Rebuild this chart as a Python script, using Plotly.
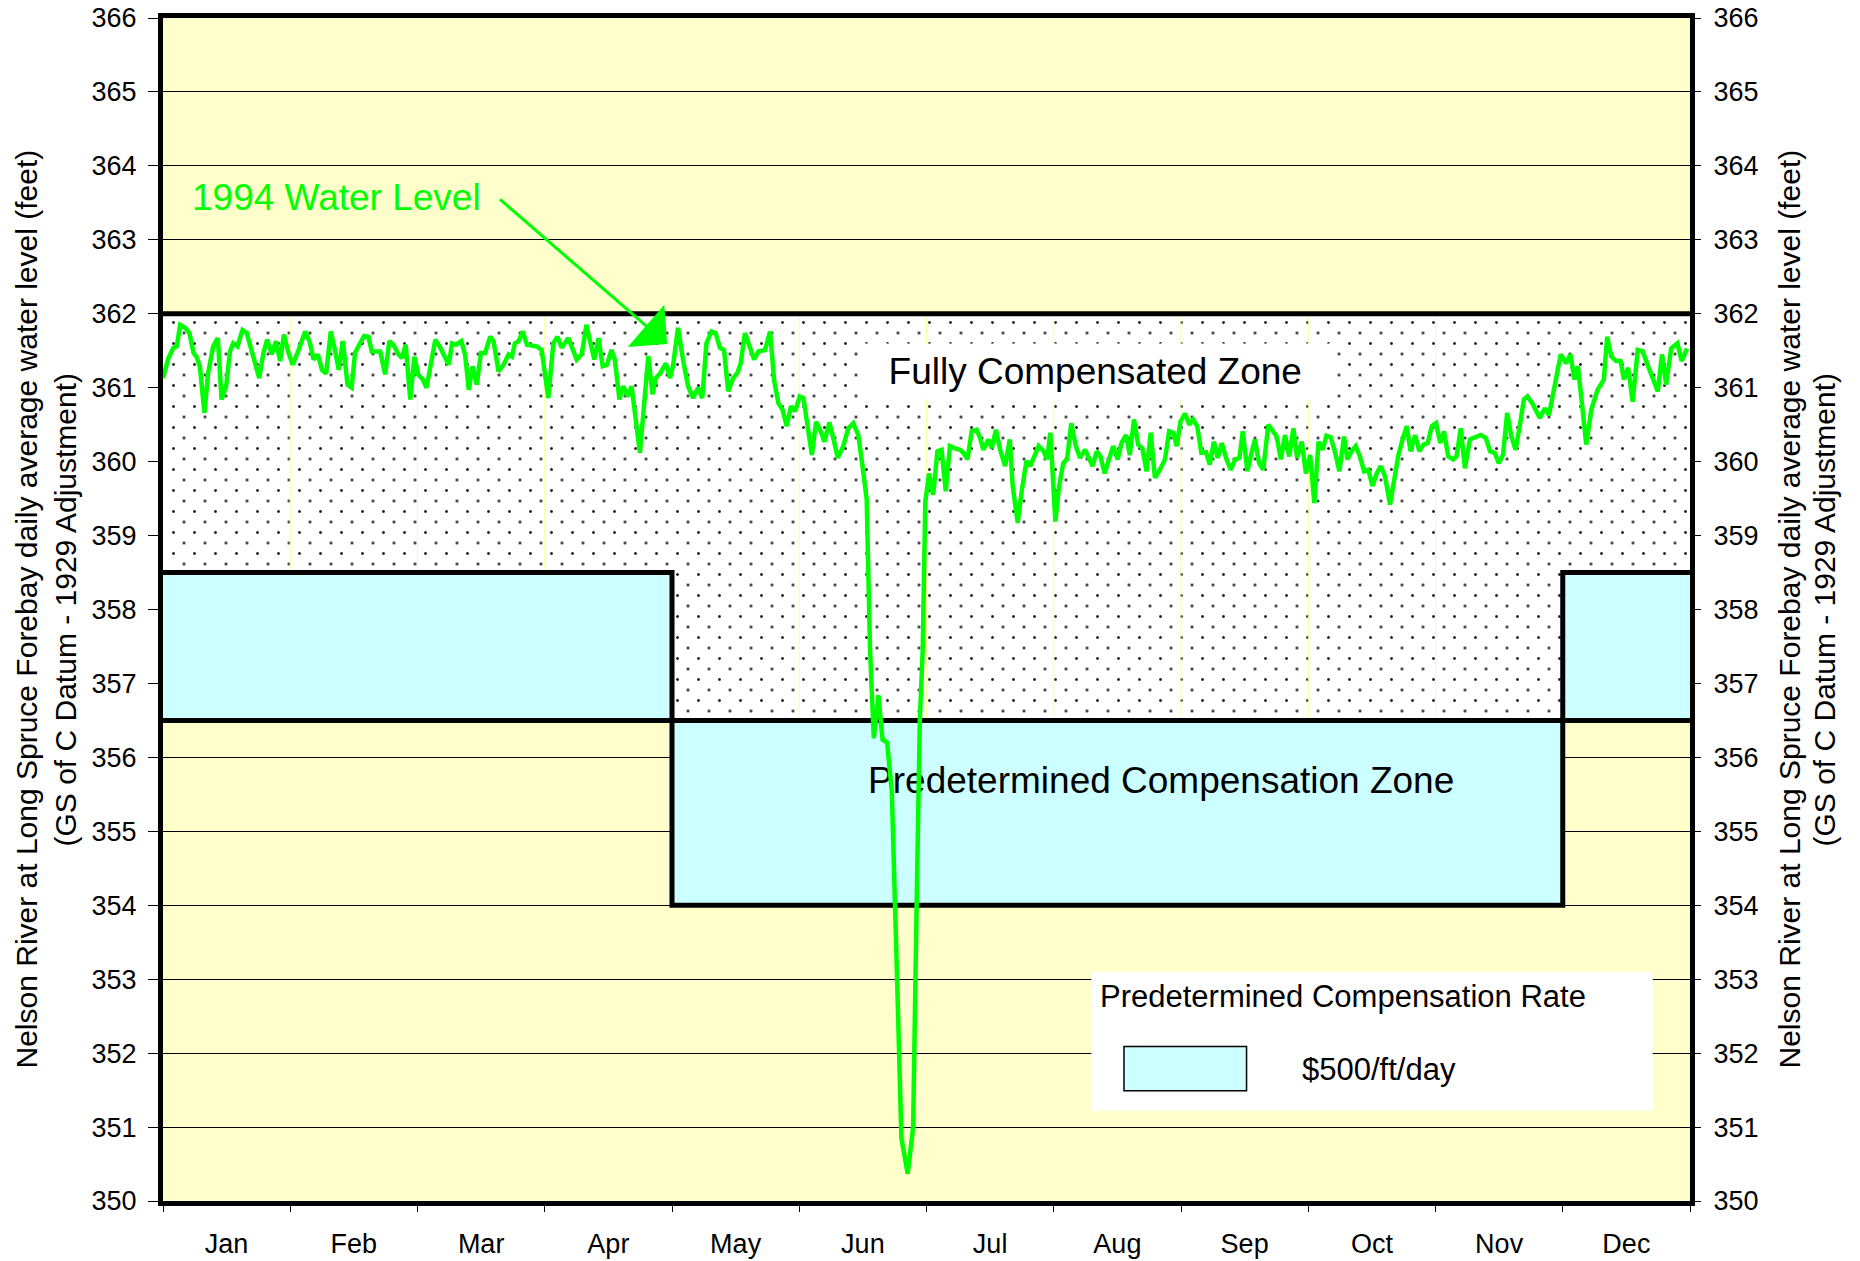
import plotly.graph_objects as go

# ---------------- data ----------------
MONTHS = ["Jan", "Feb", "Mar", "Apr", "May", "Jun", "Jul", "Aug", "Sep", "Oct", "Nov", "Dec"]
Y_TICKS = list(range(350, 367))

# (day of year, daily average water level in feet) for 1994
winter = [
    (0, 361.13), (1.3, 361.40), (2.5, 361.54), (3.3, 361.56), (4.1, 361.85), (5.3, 361.81),
    (6.3, 361.74), (7.3, 361.47), (8.0, 361.42), (8.8, 361.29), (9.9, 360.66), (10.8, 361.20),
    (12.0, 361.56), (13.1, 361.67), (14.0, 360.84), (15.1, 361.02), (16.0, 361.49), (16.8, 361.60),
    (17.8, 361.56), (19.0, 361.78), (20.0, 361.74), (21.6, 361.42), (23.0, 361.13), (24.0, 361.47),
    (24.9, 361.65), (26.0, 361.45), (27.0, 361.63), (28.0, 361.36), (28.9, 361.72), (30.0, 361.47),
    (31.0, 361.31), (32.4, 361.51), (34.0, 361.76), (35.0, 361.63), (36.0, 361.38), (37.0, 361.45),
    (38.0, 361.24), (39.0, 361.19), (40.1, 361.76), (41.1, 361.51), (42.0, 361.24), (43.0, 361.63),
    (44.1, 361.04), (45.1, 361.00), (45.9, 361.47), (47.1, 361.60), (48.1, 361.70), (49.1, 361.69),
    (49.9, 361.49), (51.9, 361.49), (53.1, 361.18), (54.1, 361.63), (55.1, 361.58), (56.3, 361.45),
    (57.1, 361.40), (58.0, 361.58), (59.1, 360.84), (60.1, 361.42), (61.0, 361.18), (62.1, 361.11),
    (63.0, 361.00), (65.1, 361.65), (66.3, 361.54), (68.3, 361.31), (69.1, 361.60), (70.0, 361.58),
    (71.3, 361.63), (72.2, 361.45), (73.1, 360.97), (74.0, 361.29), (75.0, 361.04), (76.0, 361.47),
    (77.0, 361.47), (78.2, 361.69), (79.0, 361.63), (80.2, 361.22), (81.4, 361.31), (82.6, 361.45),
    (83.4, 361.42), (84.1, 361.60), (85.0, 361.63), (86.0, 361.76), (87.0, 361.58), (89.3, 361.56),
    (90.5, 361.51), (92.1, 360.86), (93.3, 361.60), (94.3, 361.69), (95.3, 361.54), (96.9, 361.67),
    (98.9, 361.38), (100.1, 361.45), (101.2, 361.85), (102.2, 361.60), (103.1, 361.38), (104.1, 361.67),
    (105.1, 361.29), (106.1, 361.31), (107.2, 361.51), (108.0, 361.38), (109.1, 360.84), (110.0, 361.02),
    (111.1, 360.88), (112.0, 361.02), (114.0, 360.12), (116.0, 361.43),
]
spring = [
    (117.0, 360.91), (117.8, 361.13), (118.9, 361.20), (120.2, 361.33), (121.2, 361.13), (121.9, 361.29),
    (123.1, 361.81), (124.3, 361.38), (125.5, 361.02), (126.7, 360.86), (127.9, 361.00), (128.9, 360.86),
    (129.9, 361.60), (131.1, 361.76), (132.1, 361.74), (133.1, 361.54), (134.1, 361.51), (135.1, 360.95),
    (136.3, 361.13), (137.3, 361.20), (138.1, 361.33), (139.1, 361.74), (140.3, 361.56), (141.3, 361.38),
    (142.3, 361.49), (143.9, 361.51), (145.1, 361.76), (146.1, 361.09), (147.1, 360.79), (148.1, 360.70),
    (149.1, 360.48), (150.1, 360.75), (151.1, 360.68), (152.2, 360.88), (153.1, 360.86), (154.1, 360.52),
    (155.1, 360.09), (156.1, 360.54), (157.1, 360.43), (158.1, 360.27), (159.3, 360.53), (160.3, 360.30),
    (161.3, 360.05), (162.6, 360.21), (163.8, 360.45), (165.0, 360.52), (166.2, 360.36), (167.2, 359.94),
    (168.2, 359.49),
]
june_drawdown = [
    (169.0, 357.46), (169.9, 356.26), (171.0, 356.84), (172.0, 356.24), (173.1, 356.20), (174.2, 355.54),
    (175.4, 353.15), (176.5, 350.85), (178.0, 350.37), (179.3, 350.99), (180.1, 353.86), (180.9, 356.50),
    (181.6, 357.46), (182.2, 359.44),
]
summer = [
    (183.1, 359.84), (184.1, 359.55), (185.1, 360.14), (186.1, 360.16), (187.1, 359.60), (188.1, 360.21),
    (189.3, 360.18), (190.5, 360.16), (191.3, 360.12), (192.3, 360.03), (193.3, 360.41), (194.5, 360.43),
    (195.3, 360.32), (196.1, 360.16), (197.3, 360.30), (198.1, 360.18), (199.1, 360.43), (200.1, 360.16),
    (201.3, 359.94), (202.4, 360.30), (203.1, 359.67), (204.3, 359.17), (205.3, 359.62), (206.4, 360.01),
    (207.3, 359.94), (208.3, 360.07), (209.3, 360.21), (210.5, 360.14), (211.3, 360.03), (212.1, 360.39),
    (213.3, 359.19), (214.2, 359.67), (215.2, 359.98), (216.1, 360.03), (217.1, 360.52), (218.2, 360.21),
    (219.2, 360.05), (220.4, 360.16), (221.2, 360.05), (222.2, 359.94), (223.2, 360.14), (224.1, 360.07),
    (225.1, 359.84), (226.2, 360.03), (227.1, 360.21), (228.2, 360.03), (229.1, 360.25), (230.2, 360.36),
    (231.1, 360.09), (232.1, 360.57), (233.1, 360.23), (234.1, 360.18), (235.1, 359.87), (236.1, 360.39),
    (237.1, 359.78), (238.3, 359.89), (239.5, 360.03), (240.5, 360.41), (241.5, 360.39), (242.3, 360.21),
    (243.2, 360.54), (244.3, 360.65), (245.3, 360.50), (246.2, 360.57), (247.2, 360.48), (248.2, 360.12),
    (249.3, 360.13), (250.2, 359.96), (251.2, 360.27), (252.1, 360.05), (253.1, 360.25), (254.1, 360.05),
    (255.2, 359.89), (256.3, 360.03), (257.3, 360.05), (258.1, 360.41), (259.2, 359.87), (260.2, 360.12),
    (261.0, 360.30), (262.0, 359.98), (263.0, 359.89), (264.2, 360.50), (265.2, 360.43), (266.2, 360.34),
    (267.2, 360.03), (268.2, 360.36), (269.2, 360.07), (270.2, 360.45), (271.1, 360.05), (272.2, 360.27),
]
autumn = [
    (273.2, 359.84), (274.2, 360.09), (275.2, 359.44), (276.2, 360.27), (277.2, 360.16), (278.1, 360.35),
    (279.1, 360.33), (280.1, 360.14), (281.2, 359.87), (282.3, 360.34), (283.1, 360.03), (284.1, 360.14),
    (285.1, 360.21), (286.1, 360.07), (287.1, 359.87), (288.1, 359.89), (289.1, 359.67), (290.1, 359.84),
    (291.1, 359.94), (292.1, 359.80), (293.3, 359.42), (294.3, 359.73), (295.3, 360.09), (296.3, 360.30),
    (297.3, 360.48), (298.2, 360.14), (299.3, 360.36), (300.3, 360.14), (301.3, 360.23), (302.3, 360.25),
    (303.3, 360.48), (304.3, 360.52), (305.3, 360.25), (306.2, 360.41), (307.2, 360.07), (308.4, 360.03),
    (309.2, 360.07), (310.2, 360.45), (311.2, 359.91), (312.4, 360.30), (315.0, 360.36), (316.2, 360.32),
    (317.2, 360.14), (318.3, 360.12), (319.3, 359.98), (320.3, 360.09), (321.3, 360.66), (322.3, 360.34),
    (323.3, 360.16), (324.3, 360.48), (325.3, 360.84), (326.1, 360.88), (327.3, 360.79), (329.1, 360.59),
    (330.3, 360.72), (331.3, 360.63), (332.8, 361.06), (334.1, 361.45), (335.4, 361.33), (336.4, 361.45),
    (337.4, 361.11), (338.2, 361.29), (338.9, 360.93), (340.2, 360.23), (341.4, 360.70), (342.9, 360.97),
    (344.4, 361.11), (345.2, 361.69), (346.2, 361.42), (347.4, 361.36), (348.4, 361.36), (349.2, 361.11),
    (350.2, 361.27), (351.3, 360.81), (352.5, 361.51), (353.7, 361.49), (355.0, 361.29), (356.3, 361.08),
    (357.3, 360.95), (358.3, 361.45), (359.3, 361.04), (360.5, 361.53), (362.0, 361.60), (363.0, 361.36),
    (364.3, 361.53),
]

# compensation zone limits (feet) and the open-water season (month indices)
FULL_COMP_TOP = 362.0
WINTER_LIMIT = 358.5
PREDET_TOP = 356.5
PREDET_BOTTOM = 354.0
OPEN_WATER_FIRST_MONTH = 4    # May
OPEN_WATER_END_MONTH = 11     # end of Nov
RATE_LABEL = "$500/ft/day"

# ---------------- derived ----------------
readings = winter + spring + june_drawdown + summer + autumn
day = [d for d, _ in readings]
level = [v for _, v in readings]

YEAR = 365.0
edges = [YEAR * i / 12 for i in range(13)]
centers = [(a + b) / 2 for a, b in zip(edges[:-1], edges[1:])]
ms, me = edges[OPEN_WATER_FIRST_MONTH], edges[OPEN_WATER_END_MONTH]
XR = [0, YEAR]
YR = [Y_TICKS[0], Y_TICKS[-1]]

W, H = 1860, 1261
ML, MR, MT, MB = 163, 170, 18, 60
PW, PH = W - ML - MR, H - MT - MB
TILE = 21
sx, sy = (TILE / 2) / PW, (TILE / 2) / PH


def px_to_paper(px):
    return (px - ML) / PW


FONT = "Liberation Sans, Arial, sans-serif"
YELLOW, CYAN, GREEN = "#FFFFCC", "#CCFFFF", "#00FF00"

# dotted "fully compensated" zone polygon
zone_x = [0, YEAR, YEAR, me, me, ms, ms, 0, 0]
zone_y = [FULL_COMP_TOP, FULL_COMP_TOP, WINTER_LIMIT, WINTER_LIMIT, PREDET_TOP, PREDET_TOP,
          WINTER_LIMIT, WINTER_LIMIT, FULL_COMP_TOP]

# predetermined compensation boxes
box_x = [0, ms, ms, 0, 0, None, me, YEAR, YEAR, me, me, None, ms, me, me, ms, ms]
box_y = [WINTER_LIMIT, WINTER_LIMIT, PREDET_TOP, PREDET_TOP, WINTER_LIMIT, None,
         WINTER_LIMIT, WINTER_LIMIT, PREDET_TOP, PREDET_TOP, WINTER_LIMIT, None,
         PREDET_TOP, PREDET_TOP, PREDET_BOTTOM, PREDET_BOTTOM, PREDET_TOP]

outline_x = [0, YEAR, None, 0, YEAR, None, 0, ms, ms, me, me, YEAR]
outline_y = [FULL_COMP_TOP, FULL_COMP_TOP, None, PREDET_TOP, PREDET_TOP, None,
             WINTER_LIMIT, WINTER_LIMIT, PREDET_BOTTOM, PREDET_BOTTOM, WINTER_LIMIT, WINTER_LIMIT]

vx, vy = [], []
for i in range(1, 12):
    if i in (OPEN_WATER_FIRST_MONTH, OPEN_WATER_END_MONTH):
        continue
    bottom = PREDET_TOP if OPEN_WATER_FIRST_MONTH < i < OPEN_WATER_END_MONTH else WINTER_LIMIT
    vx += [edges[i], edges[i], None]
    vy += [FULL_COMP_TOP, bottom, None]

fig = go.Figure()

pat = dict(shape=".", size=TILE, solidity=0.016, fgcolor="#1e1e1e", fillmode="replace")
# dot lattice A (white background)
fig.add_trace(go.Scatter(x=zone_x, y=zone_y, mode="lines", fill="toself", fillcolor="white",
                         line=dict(width=0), fillpattern=dict(pat, bgcolor="white"),
                         hoverinfo="skip", showlegend=False, xaxis="x", yaxis="y"))
# dot lattice B (offset half a tile -> staggered dots)
fig.add_trace(go.Scatter(x=zone_x, y=zone_y, mode="lines", fill="toself",
                         fillcolor="rgba(0,0,0,0)", line=dict(width=0),
                         fillpattern=dict(pat, bgcolor="rgba(0,0,0,0)"),
                         hoverinfo="skip", showlegend=False, xaxis="x2", yaxis="y2"))
# top layer
fig.add_trace(go.Scatter(x=box_x, y=box_y, mode="lines", fill="toself", fillcolor=CYAN,
                         line=dict(width=0), hoverinfo="skip", showlegend=False,
                         xaxis="x3", yaxis="y3"))
fig.add_trace(go.Scatter(x=vx, y=vy, mode="lines", line=dict(color="#FFFF99", width=1),
                         hoverinfo="skip", showlegend=False, xaxis="x3", yaxis="y3"))
fig.add_trace(go.Scatter(x=outline_x, y=outline_y, mode="lines",
                         line=dict(color="black", width=5), hoverinfo="skip", showlegend=False,
                         cliponaxis=False, xaxis="x3", yaxis="y3"))
fig.add_trace(go.Scatter(x=[238.6], y=[355.64], mode="text", text=["Predetermined Compensation Zone"],
                         textfont=dict(family=FONT, size=37, color="black"), textposition="middle center",
                         hoverinfo="skip", showlegend=False, xaxis="x3", yaxis="y3"))
fig.add_trace(go.Scatter(x=day, y=level, mode="lines", name="1994 Water Level",
                         line=dict(color=GREEN, width=4.5), showlegend=False, cliponaxis=False,
                         xaxis="x3", yaxis="y3"))
# anchors for the overlay axes
fig.add_trace(go.Scatter(x=[], y=[], xaxis="x4", yaxis="y3", showlegend=False))
fig.add_trace(go.Scatter(x=[], y=[], xaxis="x3", yaxis="y4", showlegend=False))

tickfont = dict(family=FONT, size=27, color="black")
hidden = dict(showticklabels=False, ticks="", showline=False, zeroline=False, showgrid=False)

fig.update_layout(
    template="none",
    width=W, height=H,
    margin=dict(l=ML, r=MR, t=MT, b=MB, pad=0, autoexpand=False),
    paper_bgcolor="white", plot_bgcolor="rgba(0,0,0,0)",
    showlegend=False,
    font=dict(family=FONT, color="black"),
    xaxis=dict(range=XR, domain=[0, 1], anchor="y", automargin=False, **hidden),
    yaxis=dict(range=YR, domain=[0, 1], anchor="x", tickvals=Y_TICKS, showgrid=True,
               gridcolor="black", gridwidth=1, showticklabels=False, ticks="",
               showline=False, zeroline=False, automargin=False),
    xaxis2=dict(range=[XR[0] + (XR[1] - XR[0]) * sx, XR[1]], domain=[sx, 1], anchor="y2",
                visible=False, automargin=False),
    yaxis2=dict(range=[YR[0], YR[1] - (YR[1] - YR[0]) * sy], domain=[0, 1 - sy], anchor="x2",
                visible=False, automargin=False),
    xaxis3=dict(range=XR, domain=[0, 1], anchor="y3", tickvals=centers, ticktext=MONTHS,
                ticks="", tickfont=tickfont, showline=True, linewidth=5, linecolor="black",
                mirror=True, showgrid=False, zeroline=False, ticklabelstandoff=15,
                automargin=False),
    yaxis3=dict(range=YR, domain=[0, 1], anchor="x3", tickvals=Y_TICKS, ticks="outside",
                ticklen=10, tickwidth=1, tickcolor="black", tickfont=tickfont, showline=True,
                linewidth=5, linecolor="black", mirror=True, showgrid=False, zeroline=False,
                ticklabelstandoff=6, automargin=False),
    xaxis4=dict(range=XR, overlaying="x3", anchor="y3", side="bottom", tickvals=edges,
                ticks="outside", ticklen=10, tickwidth=1, tickcolor="black",
                showticklabels=False, showgrid=False, showline=False, zeroline=False,
                automargin=False),
    yaxis4=dict(range=YR, overlaying="y3", anchor="x3", side="right", tickvals=Y_TICKS,
                ticks="outside", ticklen=10, tickwidth=1, tickcolor="black", tickfont=tickfont,
                showgrid=False, showline=False, zeroline=False, ticklabelstandoff=7,
                automargin=False),
)

# yellow plot background (below gridlines)
fig.add_shape(type="rect", xref="x", yref="y", x0=XR[0], x1=XR[1], y0=YR[0], y1=YR[1],
              fillcolor=YELLOW, line=dict(width=0), layer="below")

# legend box
fig.add_shape(type="rect", xref="x3", yref="y3", x0=221.9, x1=356.1, y0=351.22, y1=353.10,
              fillcolor="white", line=dict(width=0), layer="above")
fig.add_shape(type="rect", xref="x3", yref="y3", x0=229.7, x1=259.0, y0=351.49, y1=352.09,
              fillcolor=CYAN, line=dict(width=1.5, color="black"), layer="above")

title1 = "Nelson River at Long Spruce Forebay daily average water level (feet)"
title2 = "(GS of C Datum - 1929 Adjustment)"
anns = [
    dict(x=6.45, y=363.57, xref="x3", yref="y3", xanchor="left", yanchor="middle",
         text="1994 Water Level", showarrow=False, font=dict(family=FONT, size=37, color=GREEN)),
    dict(x=120.5, y=361.59, ax=80.1, ay=363.57, xref="x3", yref="y3", axref="x3", ayref="y3",
         text=" ", font=dict(size=2), showarrow=True, arrowhead=1, arrowsize=3.1, arrowwidth=3,
         arrowcolor=GREEN, standoff=0, startstandoff=0),
    dict(x=223.0, y=361.22, xref="x3", yref="y3", xanchor="center", yanchor="middle",
         text="\u00a0\u00a0Fully Compensated Zone\u00a0\u00a0", showarrow=False, bgcolor="white",
         borderpad=7, font=dict(family=FONT, size=37, color="black")),
    dict(x=223.5, y=352.76, xref="x3", yref="y3", xanchor="left", yanchor="middle",
         text="Predetermined Compensation Rate", showarrow=False,
         font=dict(family=FONT, size=31, color="black")),
    dict(x=271.7, y=351.78, xref="x3", yref="y3", xanchor="left", yanchor="middle",
         text=RATE_LABEL, showarrow=False, font=dict(family=FONT, size=31, color="black")),
    dict(x=px_to_paper(26), y=0.5, xref="paper", yref="paper", text=title1, textangle=-90,
         showarrow=False, xanchor="center", yanchor="middle", font=dict(family=FONT, size=30)),
    dict(x=px_to_paper(65), y=0.5, xref="paper", yref="paper", text=title2, textangle=-90,
         showarrow=False, xanchor="center", yanchor="middle", font=dict(family=FONT, size=30)),
    dict(x=px_to_paper(1789), y=0.5, xref="paper", yref="paper", text=title1, textangle=-90,
         showarrow=False, xanchor="center", yanchor="middle", font=dict(family=FONT, size=30)),
    dict(x=px_to_paper(1824), y=0.5, xref="paper", yref="paper", text=title2, textangle=-90,
         showarrow=False, xanchor="center", yanchor="middle", font=dict(family=FONT, size=30)),
]
fig.update_layout(annotations=anns)

# the figure fills the window exactly: drop the page's default body margin
fig.write_html("out.html", config={"displayModeBar": False},
               post_script="document.body.style.margin='0';document.body.style.overflow='hidden';")
